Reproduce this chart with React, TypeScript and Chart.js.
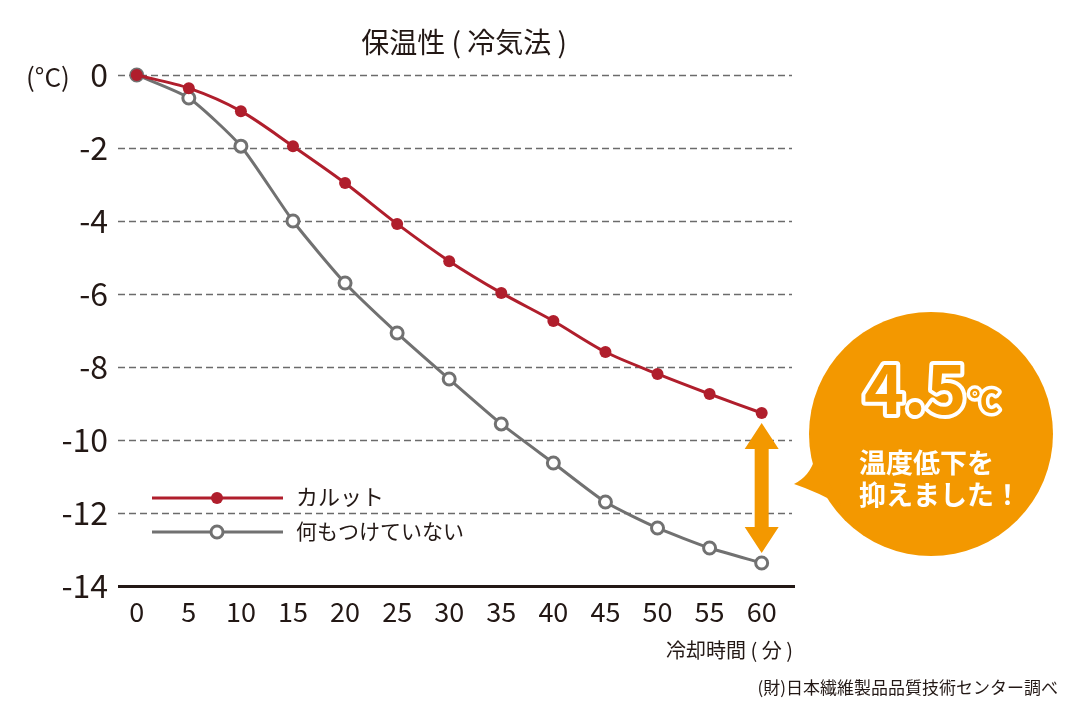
import React, { useEffect, useRef } from "react";
import { Chart, registerables } from "chart.js";

Chart.register(...registerables);

// Cooling time (minutes) and measured temperatures (°C)
const minutes = [0, 5, 10, 15, 20, 25, 30, 35, 40, 45, 50, 55, 60];
const karuttoTemps = [0, -0.36, -0.99, -1.95, -2.96, -4.08, -5.1, -5.97, -6.74, -7.59, -8.19, -8.74, -9.26];
const untreatedTemps = [0, -0.63, -1.95, -4.0, -5.7, -7.07, -8.33, -9.56, -10.63, -11.7, -12.41, -12.96, -13.37];
const yTicks = [0, -2, -4, -6, -8, -10, -12, -14];

const seriesNames = ["カルット", "何もつけていない"];
const titleText = "保温性 ( 冷気法 )";
const unitText = "(°C)";
const xAxisText = "冷却時間 ( 分 )";
const sourceText = "(財)日本繊維製品品質技術センター調べ";
const calloutValue = "4.5";
const calloutUnit = "℃";
const calloutLines = ["温度低下を", "抑えました！"];

const FONT = '"Noto Sans CJK JP", "Noto Sans", sans-serif';
const RED = "#b01e2c";
const GRAY = "#717171";
const ORANGE = "#f39800";
const INK = "#231815";

const overlayPlugin = {
  id: "overlay",
  beforeDatasetsDraw(chart: any) {
    const { ctx, chartArea, scales } = chart;
    const y = scales.y;
    ctx.save();
    yTicks.forEach((v) => {
      const py = Math.round(y.getPixelForValue(v)) + 0.5;
      if (v === -14) {
        ctx.setLineDash([]);
        ctx.strokeStyle = INK;
        ctx.lineWidth = 3;
        ctx.beginPath();
        ctx.moveTo(chartArea.left, py);
        ctx.lineTo(chartArea.right, py);
        ctx.stroke();
      } else {
        ctx.setLineDash([7, 4]);
        ctx.strokeStyle = "#6b6b6b";
        ctx.lineWidth = 1.4;
        ctx.beginPath();
        ctx.moveTo(chartArea.left, py);
        ctx.lineTo(chartArea.right - 3, py);
        ctx.stroke();
      }
    });
    ctx.restore();
  },
  afterDatasetsDraw(chart: any) {
    const { ctx, chartArea, scales } = chart;
    const x = scales.x;
    const y = scales.y;
    ctx.save();

    // title and axis captions
    ctx.fillStyle = INK;
    ctx.textBaseline = "middle";
    ctx.textAlign = "center";
    ctx.font = `28px ${FONT}`;
    ctx.fillText(titleText, 464, 42);
    ctx.textAlign = "left";
    ctx.font = `26px ${FONT}`;
    ctx.fillText(unitText, 26, 77);
    ctx.textAlign = "right";
    ctx.font = `20px ${FONT}`;
    ctx.fillText(xAxisText, chartArea.right - 2, 650);
    ctx.font = `17px ${FONT}`;
    ctx.fillText(sourceText, 1058, 688);

    // legend
    const legendRows = [
      { y: 498, color: RED, hollow: false, text: seriesNames[0], size: 22 },
      { y: 532, color: GRAY, hollow: true, text: seriesNames[1], size: 21 },
    ];
    legendRows.forEach((r) => {
      ctx.strokeStyle = r.color;
      ctx.lineWidth = 3;
      ctx.beginPath();
      ctx.moveTo(152, r.y);
      ctx.lineTo(283, r.y);
      ctx.stroke();
      ctx.beginPath();
      ctx.arc(217, r.y, 6, 0, Math.PI * 2);
      if (r.hollow) {
        ctx.fillStyle = "#fff";
        ctx.fill();
        ctx.lineWidth = 3;
        ctx.stroke();
      } else {
        ctx.fillStyle = r.color;
        ctx.fill();
      }
      ctx.fillStyle = INK;
      ctx.textAlign = "left";
      ctx.font = `${r.size}px ${FONT}`;
      ctx.fillText(r.text, 296, r.y - 1);
    });

    // double arrow between the two final readings
    const last = minutes.length - 1;
    const ax = x.getPixelForValue(minutes[last]);
    const top = y.getPixelForValue(karuttoTemps[last]) + 10;
    const bot = y.getPixelForValue(untreatedTemps[last]) - 10;
    const shaft = 7;
    const head = 17;
    const headLen = 26;
    ctx.fillStyle = ORANGE;
    ctx.beginPath();
    ctx.moveTo(ax, top);
    ctx.lineTo(ax + head, top + headLen);
    ctx.lineTo(ax + shaft, top + headLen);
    ctx.lineTo(ax + shaft, bot - headLen);
    ctx.lineTo(ax + head, bot - headLen);
    ctx.lineTo(ax, bot);
    ctx.lineTo(ax - head, bot - headLen);
    ctx.lineTo(ax - shaft, bot - headLen);
    ctx.lineTo(ax - shaft, top + headLen);
    ctx.lineTo(ax - head, top + headLen);
    ctx.closePath();
    ctx.fill();

    // speech bubble
    const cx = 931;
    const cy = 434;
    const r = 122;
    ctx.beginPath();
    ctx.arc(cx, cy, r, 0, Math.PI * 2);
    ctx.fill();
    ctx.beginPath();
    ctx.moveTo(815, 458);
    ctx.quadraticCurveTo(810, 476, 794, 484);
    ctx.quadraticCurveTo(818, 492, 842, 506);
    ctx.closePath();
    ctx.fill();

    ctx.textAlign = "left";
    ctx.textBaseline = "alphabetic";
    ctx.lineJoin = "round";
    ctx.font = `bold 68px ${FONT}`;
    const vx = 864;
    const vy = 414;
    ctx.strokeStyle = "#fff";
    ctx.lineWidth = 8;
    ctx.strokeText(calloutValue, vx, vy);
    ctx.fillStyle = ORANGE;
    ctx.fillText(calloutValue, vx, vy);
    const vw = ctx.measureText(calloutValue).width;
    ctx.font = `bold 30px ${FONT}`;
    ctx.lineWidth = 7;
    ctx.strokeText(calloutUnit, vx + vw + 3, vy - 2);
    ctx.fillText(calloutUnit, vx + vw + 3, vy - 2);

    ctx.fillStyle = "#fff";
    ctx.font = `bold 27px ${FONT}`;
    ctx.textBaseline = "middle";
    ctx.fillText(calloutLines[0], 859, 463);
    ctx.fillText(calloutLines[1], 859, 495);

    ctx.restore();
  },
};

export default function App() {
  const canvasRef = useRef<HTMLCanvasElement | null>(null);

  useEffect(() => {
    if (!canvasRef.current) return;
    const chart = new Chart(canvasRef.current, {
      type: "line",
      data: {
        datasets: [
          {
            label: seriesNames[0],
            data: minutes.map((m, i) => ({ x: m, y: karuttoTemps[i] })),
            borderColor: RED,
            backgroundColor: RED,
            borderWidth: 3,
            pointRadius: 6,
            pointBorderWidth: 0,
            pointBackgroundColor: RED,
            tension: 0.3,
            clip: false as any,
          },
          {
            label: seriesNames[1],
            data: minutes.map((m, i) => ({ x: m, y: untreatedTemps[i] })),
            borderColor: GRAY,
            backgroundColor: "#fff",
            borderWidth: 3,
            pointRadius: 6,
            pointBorderWidth: 3,
            pointBorderColor: GRAY,
            pointBackgroundColor: "#fff",
            tension: 0.2,
            clip: false as any,
          },
        ],
      },
      options: {
        animation: false,
        responsive: false,
        devicePixelRatio: 1,
        layout: { padding: { left: 0, right: 285, top: 75, bottom: 0 } },
        plugins: {
          legend: { display: false },
          tooltip: { enabled: false },
          title: { display: false },
        },
        scales: {
          x: {
            type: "linear",
            min: -1.8,
            max: 63.2,
            grid: { display: false, drawTicks: false },
            border: { display: false },
            afterBuildTicks: (scale: any) => {
              scale.ticks = minutes.map((v) => ({ value: v }));
            },
            afterFit: (scale: any) => {
              scale.height = 134;
            },
            ticks: {
              autoSkip: false,
              maxRotation: 0,
              padding: 10,
              color: INK,
              font: { family: FONT, size: 27 },
            },
          },
          y: {
            type: "linear",
            min: -14,
            max: 0,
            grid: { display: false, drawTicks: false },
            border: { display: false },
            afterBuildTicks: (scale: any) => {
              scale.ticks = yTicks.map((v) => ({ value: v }));
            },
            afterFit: (scale: any) => {
              scale.width = 118;
            },
            ticks: {
              padding: 10,
              color: INK,
              font: { family: FONT, size: 32 },
            },
          },
        },
      },
      plugins: [overlayPlugin],
    });
    return () => chart.destroy();
  }, []);

  return (
    <div style={{ position: "fixed", left: 0, top: 0, width: 1080, height: 720, background: "#fff" }}>
      <canvas ref={canvasRef} width={1080} height={720} style={{ width: 1080, height: 720, display: "block" }} />
    </div>
  );
}
